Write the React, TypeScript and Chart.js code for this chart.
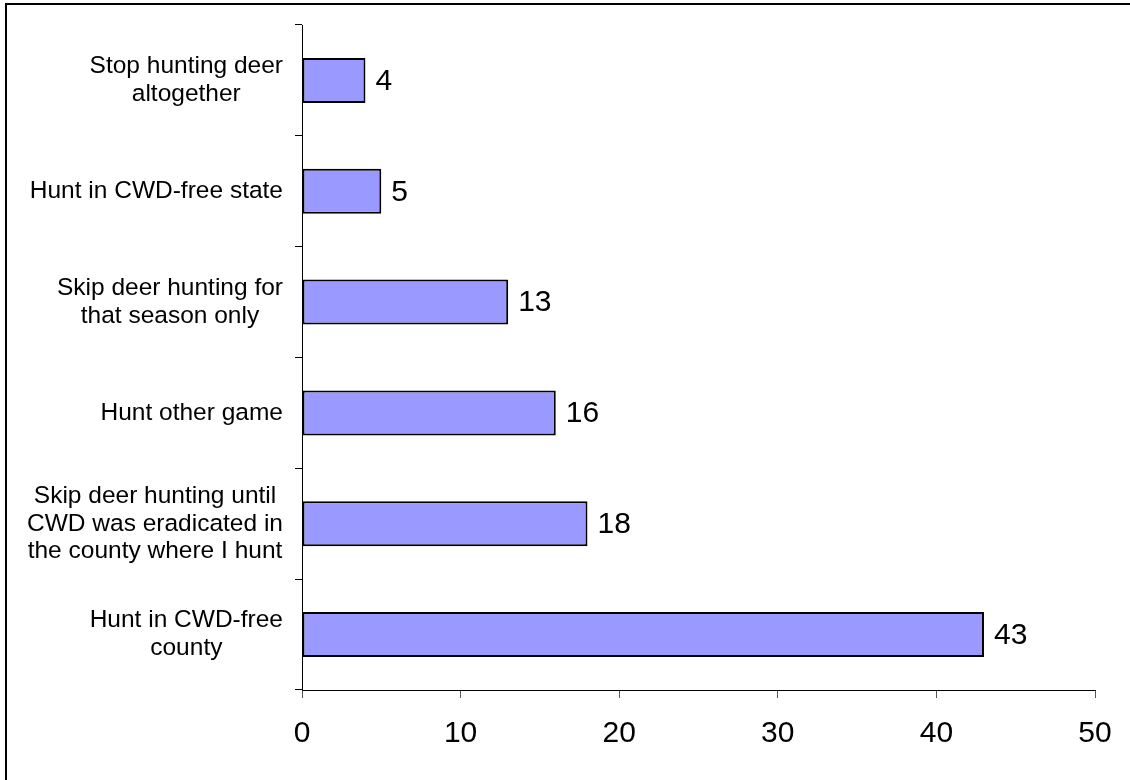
import React, { useEffect, useRef } from "react";
import { Chart, registerables } from "chart.js";

Chart.register(...registerables);

const categories: string[][] = [
  ["Stop hunting deer", "altogether"],
  ["Hunt in CWD-free state"],
  ["Skip deer hunting for", "that season only"],
  ["Hunt other game"],
  ["Skip deer hunting until", "CWD was eradicated in", "the county where I hunt"],
  ["Hunt in CWD-free", "county"],
];
const values: number[] = [4, 5, 13, 16, 18, 43];
const xTicks: number[] = [0, 10, 20, 30, 40, 50];

const FONT = "'Liberation Sans', Arial, sans-serif";

const categoryLabelPlugin = {
  id: "categoryLabels",
  afterDraw(chart: any) {
    const ctx = chart.ctx;
    const y = chart.scales.y;
    const right = y.right - 7 - 12;
    const lineH = 27.7;
    ctx.save();
    ctx.font = `24.5px ${FONT}`;
    ctx.fillStyle = "#000";
    ctx.textAlign = "center";
    ctx.textBaseline = "middle";
    categories.forEach((lines, i) => {
      const cy = y.getPixelForTick(i);
      const w = Math.max(...lines.map((l) => ctx.measureText(l).width));
      const cx = right - w / 2;
      const top = cy - ((lines.length - 1) * lineH) / 2;
      lines.forEach((l, j) => ctx.fillText(l, cx, top + j * lineH));
    });
    ctx.restore();
  },
};

const valueLabelPlugin = {
  id: "valueLabels",
  afterDatasetsDraw(chart: any) {
    const ctx = chart.ctx;
    const meta = chart.getDatasetMeta(0);
    ctx.save();
    ctx.font = `30px ${FONT}`;
    ctx.fillStyle = "#000";
    ctx.textAlign = "left";
    ctx.textBaseline = "middle";
    meta.data.forEach((bar: any, i: number) => {
      ctx.fillText(String(values[i]), bar.x + 10, bar.y + 1);
    });
    ctx.restore();
  },
};

export default function App() {
  const ref = useRef<HTMLCanvasElement>(null);
  useEffect(() => {
    if (!ref.current) return;
    const chart = new Chart(ref.current, {
      type: "bar",
      data: {
        labels: categories.map((c) => c.join(" ")),
        datasets: [
          {
            data: values,
            backgroundColor: "#9999FF",
            borderColor: "#000",
            borderWidth: 2,
            borderSkipped: false,
            barPercentage: 0.406,
            categoryPercentage: 1,
          },
        ],
      },
      options: {
        indexAxis: "y",
        responsive: false,
        animation: false,
        devicePixelRatio: 1,
        layout: { padding: { top: 25, right: 35, left: 0, bottom: 0 } },
        plugins: { legend: { display: false }, tooltip: { enabled: false } },
        scales: {
          x: {
            min: 0,
            max: 50,
            afterBuildTicks: (s: any) => {
              s.ticks = xTicks.map((v) => ({ value: v }));
            },
            ticks: {
              color: "#000",
              font: { family: FONT, size: 30 },
              padding: 18,
              maxRotation: 0,
            },
            grid: { drawOnChartArea: false, drawTicks: true, tickLength: 8, color: "#555" },
            border: { color: "#000", width: 1 },
            afterFit: (s: any) => {
              s.height = 90;
            },
          },
          y: {
            ticks: { display: false },
            grid: { drawOnChartArea: false, drawTicks: true, tickLength: 7, color: "#000", offset: true },
            border: { color: "#000", width: 1 },
            afterFit: (s: any) => {
              s.width = 302;
            },
          },
        },
      },
      plugins: [categoryLabelPlugin, valueLabelPlugin],
    } as any);
    return () => chart.destroy();
  }, []);

  return (
    <div
      style={{
        position: "absolute",
        left: 0,
        top: 0,
        width: 1130,
        height: 780,
        overflow: "hidden",
        background: "#fff",
      }}
    >
      <canvas ref={ref} width={1130} height={780} style={{ display: "block" }} />
      <div
        style={{
          position: "absolute",
          left: 5,
          top: 3,
          width: 1200,
          height: 900,
          border: "2px solid #000",
          boxSizing: "border-box",
          pointerEvents: "none",
        }}
      />
    </div>
  );
}
